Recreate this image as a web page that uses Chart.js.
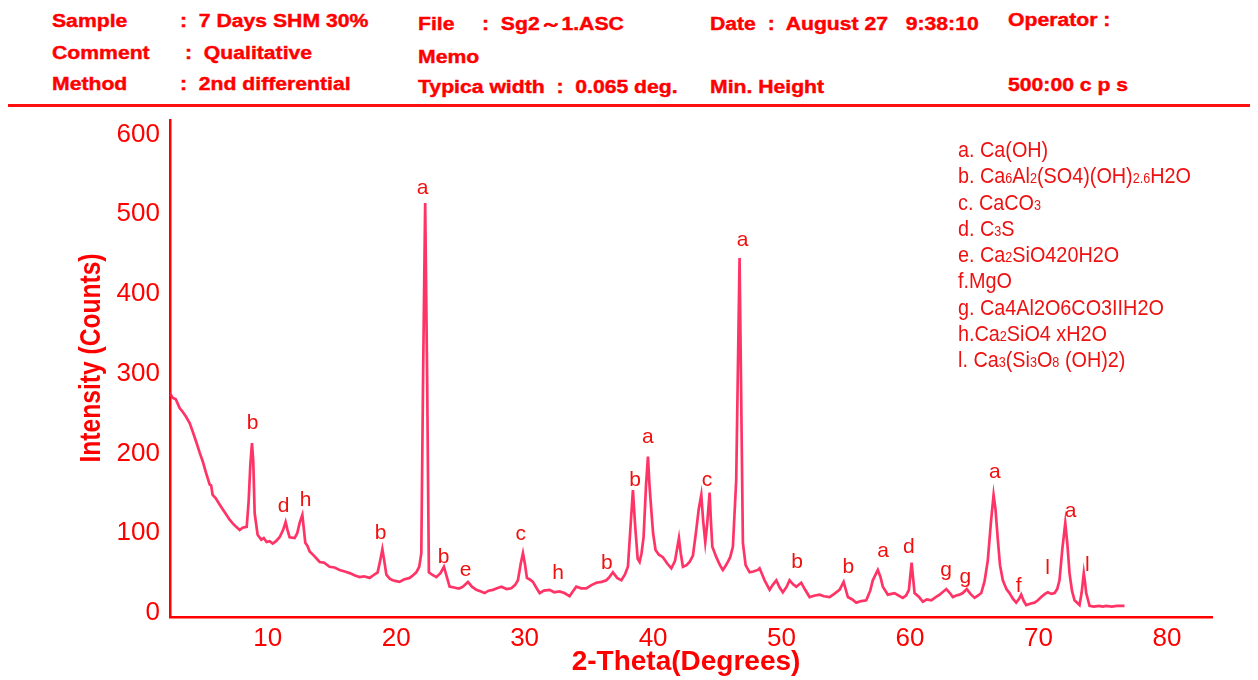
<!DOCTYPE html>
<html>
<head>
<meta charset="utf-8">
<script src="https://cdn.jsdelivr.net/npm/chart.js@4.4.1/dist/chart.umd.min.js"></script>
<style>
  body { margin: 0; background: #fff; }
  #wrap { position: relative; width: 1258px; height: 680px; overflow: hidden; }
  #xrd { position: absolute; left: 0; top: 0; }
  .hd { position: absolute; font: bold 17.5px "Liberation Sans", Arial, sans-serif; line-height: 18px; color: #ff0000; white-space: pre; transform: scaleX(1.21); transform-origin: left top; -webkit-text-stroke: 0.4px #ff0000; }
  #rule { position: absolute; left: 8px; top: 104px; width: 1242px; height: 3px; background: #ff1010; }
  #phases { position: absolute; left: 958px; top: 137px; font: 22px "Liberation Sans", Arial, sans-serif; color: #ee1111; transform: scaleX(0.9); transform-origin: left top; white-space: nowrap; }
  #phases div { height: 26.3px; line-height: 26px; }
  #phases span { font-size: 14px; line-height: 0; }
</style>
</head>
<body>
<div id="wrap">
  <div class="hd" style="left:52px;top:12px">Sample</div>
  <div class="hd" style="left:180px;top:12px">:  7 Days SHM 30%</div>
  <div class="hd" style="left:52px;top:44px">Comment</div>
  <div class="hd" style="left:185px;top:44px">:  Qualitative</div>
  <div class="hd" style="left:52px;top:75px">Method</div>
  <div class="hd" style="left:180px;top:75px">:  2nd differential</div>
  <div class="hd" style="left:418px;top:15px">File</div>
  <div class="hd" style="left:482px;top:15px">:  Sg2～1.ASC</div>
  <div class="hd" style="left:418px;top:48px">Memo</div>
  <div class="hd" style="left:418px;top:78px">Typica width  :  0.065 deg.</div>
  <div class="hd" style="left:710px;top:15px">Date  :  August 27   9:38:10</div>
  <div class="hd" style="left:710px;top:78px">Min. Height</div>
  <div class="hd" style="left:1008px;top:11px">Operator :</div>
  <div class="hd" style="left:1008px;top:76px">500:00 c p s</div>
  <div id="rule"></div>
  <canvas id="xrd" width="1258" height="680"></canvas>
  <div id="phases">
    <div>a. Ca(OH)</div>
    <div>b. Ca<span>6</span>Al<span>2</span>(SO4)(OH)<span>2.6</span>H2O</div>
    <div>c. CaCO<span>3</span></div>
    <div>d. C<span>3</span>S</div>
    <div>e. Ca<span>2</span>SiO420H2O</div>
    <div>f.MgO</div>
    <div>g. Ca4Al2O6CO3IIH2O</div>
    <div>h.Ca<span>2</span>SiO4 xH2O</div>
    <div>l. Ca<span>3</span>(Si<span>3</span>O<span>8</span> (OH)2)</div>
  </div>
</div>
<script>
// pattern: 2-theta (deg) and intensity (counts)
const twoTheta = [
  2.37, 2.6, 2.85, 3.15, 3.4, 3.65, 3.93, 4.2, 4.45, 4.71, 4.95, 5.2, 5.49, 5.6, 5.72, 5.95,
  6.26, 6.5, 6.75, 7.04, 7.3, 7.55, 7.82, 8.05, 8.37, 8.52, 8.65, 8.78, 8.88, 8.99, 9.22, 9.5,
  9.7, 9.92, 10.15, 10.39, 10.65, 10.93, 11.2, 11.4, 11.55, 11.71, 12.1, 12.3, 12.49, 12.7, 12.82, 12.93,
  13.1, 13.27, 13.6, 14.05, 14.4, 14.82, 15.2, 15.6, 16.0, 16.38, 16.8, 17.16, 17.5, 17.94, 18.2, 18.56,
  18.75, 18.93, 19.08, 19.24, 19.5, 19.73, 20.0, 20.27, 20.6, 21.05, 21.3, 21.57, 21.8, 21.96, 22.1, 22.26,
  22.41, 22.55, 22.8, 23.13, 23.45, 23.72, 23.95, 24.16, 24.5, 24.79, 24.94, 25.2, 25.59, 25.9, 26.24, 26.6,
  26.89, 27.2, 27.53, 27.85, 28.19, 28.6, 28.96, 29.25, 29.48, 29.7, 29.87, 30.02, 30.18, 30.4, 30.65, 30.9,
  31.17, 31.5, 31.95, 32.3, 32.72, 33.1, 33.5, 33.75, 34.02, 34.4, 34.8, 35.2, 35.58, 36.0, 36.36, 36.6,
  36.87, 37.2, 37.53, 37.8, 38.04, 38.25, 38.43, 38.6, 38.8, 38.95, 39.1, 39.26, 39.45, 39.6, 39.72, 39.86,
  40.0, 40.19, 40.45, 40.76, 41.1, 41.42, 41.7, 42.01, 42.15, 42.32, 42.6, 42.84, 43.1, 43.36, 43.55, 43.75,
  43.9, 44.06, 44.2, 44.4, 44.5, 44.61, 44.92, 45.2, 45.43, 45.6, 45.82, 46.0, 46.21, 46.47, 46.73, 46.99,
  47.2, 47.51, 47.8, 48.16, 48.29, 48.5, 48.68, 49.07, 49.3, 49.59, 49.85, 50.1, 50.4, 50.62, 50.9, 51.14,
  51.53, 51.8, 52.18, 52.6, 52.96, 53.3, 53.74, 54.1, 54.51, 54.83, 55.16, 55.5, 55.81, 56.2, 56.59, 56.9,
  57.1, 57.49, 57.7, 57.88, 58.27, 58.79, 59.1, 59.44, 59.7, 59.91, 60.12, 60.35, 60.7, 61.0, 61.3, 61.65,
  62.0, 62.3, 62.82, 63.1, 63.33, 63.6, 63.85, 64.1, 64.42, 64.7, 65.02, 65.3, 65.54, 65.8, 66.05, 66.3,
  66.5, 66.65, 66.83, 67.0, 67.22, 67.5, 67.74, 68.0, 68.26, 68.5, 68.65, 68.85, 69.04, 69.4, 69.69, 69.95,
  70.21, 70.5, 70.72, 71.0, 71.25, 71.45, 71.63, 71.85, 72.08, 72.25, 72.41, 72.6, 72.8, 73.19, 73.35, 73.52,
  73.62, 73.71, 73.97, 74.3, 74.7, 75.0, 75.27, 75.7, 76.1, 76.69
];
const counts = [
  276, 270, 268, 257, 252, 246, 238, 226, 214, 201, 190, 176, 161, 160, 148, 144,
  136, 130, 124, 117, 112, 108, 104, 107, 108, 140, 185, 213, 190, 125, 98, 92,
  94, 89, 90, 87, 90, 95, 104, 114, 104, 95, 94, 100, 113, 123, 105, 88,
  84, 77, 72, 64, 63, 58, 57, 54, 52, 50, 47, 45, 46, 44, 47, 51,
  65, 80, 65, 48, 43, 41, 40, 39, 42, 44, 47, 51, 58, 75, 300, 514,
  300, 51, 48, 45, 50, 58, 45, 33, 32, 31, 31, 33, 39, 33, 29, 27,
  25, 28, 29, 31, 33, 30, 31, 35, 41, 62, 75, 62, 44, 42, 39, 32,
  25, 28, 29, 26, 27, 25, 21, 27, 33, 31, 31, 35, 38, 39, 41, 45,
  51, 44, 41, 48, 58, 110, 154, 110, 68, 64, 75, 95, 160, 196, 160, 129,
  100, 79, 73, 70, 62, 56, 65, 94, 75, 58, 60, 64, 72, 104, 130, 148,
  115, 89, 110, 151, 115, 83, 70, 60, 54, 58, 64, 70, 83, 167, 445, 88,
  60, 51, 52, 54, 56, 48, 41, 29, 35, 41, 32, 26, 33, 41, 36, 33,
  38, 30, 20, 22, 23, 21, 20, 24, 29, 39, 20, 17, 13, 15, 16, 28,
  41, 54, 45, 33, 23, 25, 22, 19, 22, 29, 63, 25, 20, 14, 17, 16,
  20, 23, 30, 25, 20, 22, 23, 25, 30, 24, 19, 22, 25, 40, 66, 115,
  148, 130, 92, 60, 41, 30, 25, 18, 13, 18, 23, 15, 10, 12, 13, 16,
  20, 24, 26, 24, 25, 30, 41, 80, 113, 85, 50, 28, 16, 10, 25, 50,
  38, 25, 9, 8, 9, 8, 9, 8, 9, 9
];

// phase letters placed over the peaks (2-theta, height of the letter in counts)
const peakLetters = ['b', 'd', 'h', 'b', 'a', 'b', 'e', 'c', 'h', 'b', 'b', 'a', 'c', 'a', 'b', 'b', 'a', 'd', 'g', 'g', 'a', 'f', 'l', 'a', 'l'];
const peakTheta   = [8.83, 11.25, 12.96, 18.8, 22.06, 23.7, 25.4, 29.7, 32.6, 36.4, 38.6, 39.6, 44.2, 46.97, 51.2, 55.2, 57.9, 59.9, 62.8, 64.3, 66.6, 68.45, 70.7, 72.5, 73.8];
const peakLabelY  = [238, 134, 142, 100, 533, 70, 54, 99, 50, 63, 166, 221, 166, 467, 64, 58, 78, 82, 54, 45, 177, 34, 56, 127, 60];

const xTicks = [10, 20, 30, 40, 50, 60, 70, 80];
const yTicks = [0, 100, 200, 300, 400, 500, 600];

const red = '#ff0000';

const labelPlugin = {
    id: 'xrdText',
    afterDatasetsDraw(chart) {
        const ctx = chart.ctx;
        const xs = chart.scales.x;
        const ys = chart.scales.y;
        ctx.save();
        ctx.fillStyle = '#f01010';
        ctx.font = '21px "Liberation Sans", Arial, sans-serif';
        ctx.textAlign = 'center';
        ctx.textBaseline = 'middle';
        peakLetters.forEach((t, i) => {
            ctx.fillText(t, xs.getPixelForValue(peakTheta[i]), ys.getPixelForValue(peakLabelY[i]));
        });

        // axis titles
        ctx.fillStyle = red;
        ctx.font = 'bold 28px "Liberation Sans", Arial, sans-serif';
        ctx.fillText('2-Theta(Degrees)', 686, 662);

        ctx.translate(92, 358);
        ctx.rotate(-Math.PI / 2);
        ctx.scale(0.82, 1);
        ctx.font = 'bold 30px "Liberation Sans", Arial, sans-serif';
        ctx.fillText('Intensity (Counts)', 0, 0);
        ctx.restore();
    }
};

document.addEventListener('DOMContentLoaded', () => {
    const ctx = document.getElementById('xrd').getContext('2d');
    new Chart(ctx, {
        type: 'line',
        data: {
            datasets: [{
                data: twoTheta.map((t, i) => ({ x: t, y: counts[i] })),
                borderColor: 'rgba(255, 30, 85, 0.9)',
                borderWidth: 2.7,
                pointRadius: 0,
                tension: 0,
                fill: false
            }]
        },
        options: {
            responsive: false,
            animation: false,
            layout: { padding: { top: 120, right: 46, left: 0, bottom: 0 } },
            plugins: { legend: { display: false }, tooltip: { enabled: false } },
            scales: {
                x: {
                    type: 'linear',
                    min: 2.4,
                    max: 83.5,
                    afterBuildTicks: (s) => { s.ticks = xTicks.map(v => ({ value: v })); },
                    afterFit: (s) => { s.height = 63; },
                    grid: { display: false, drawTicks: false },
                    border: { display: true, color: red, width: 2.5 },
                    ticks: {
                        color: red,
                        padding: 6,
                        maxRotation: 0,
                        font: { family: '"Liberation Sans", Arial, sans-serif', size: 26 }
                    }
                },
                y: {
                    min: -5,
                    max: 618,
                    afterBuildTicks: (s) => { s.ticks = yTicks.map(v => ({ value: v })); },
                    afterFit: (s) => { s.width = 170; },
                    grid: { display: false, drawTicks: false },
                    border: { display: true, color: red, width: 2.5 },
                    ticks: {
                        color: red,
                        padding: 10,
                        font: { family: '"Liberation Sans", Arial, sans-serif', size: 26 }
                    }
                }
            }
        },
        plugins: [labelPlugin]
    });
});
</script>
</body>
</html>
